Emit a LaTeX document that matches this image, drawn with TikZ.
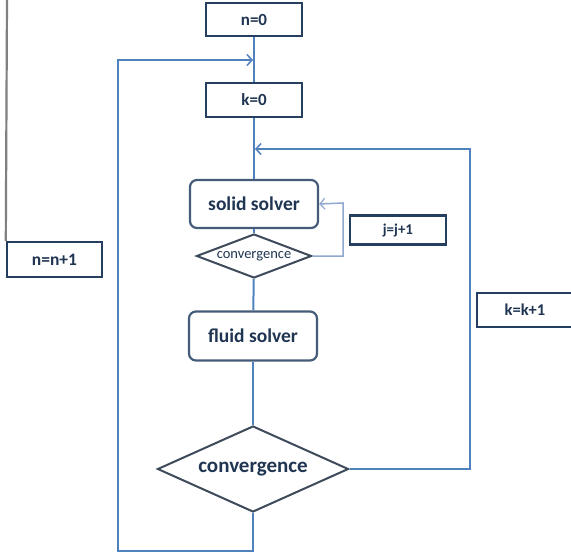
\documentclass[tikz,border=0pt]{standalone}
\usepackage{fontspec}
\setmainfont{Carlito}
\usepackage{tikz}
\usetikzlibrary{positioning,arrows.meta,shapes.geometric}
\definecolor{BoxNavy}{HTML}{243F60}
\definecolor{LineBlue}{HTML}{4F81BD}
\definecolor{SoftBlue}{HTML}{8FA8CF}
\definecolor{EdgeGray}{HTML}{3E4A5A}
\definecolor{TextNavy}{HTML}{1F3552}

\begin{document}
\begin{tikzpicture}[x=1pt,y=-1pt,font=\bfseries,text=TextNavy,
  counter/.style={draw=BoxNavy,line width=2.4pt,fill=white,inner sep=0pt},
  solver/.style={draw=BoxNavy!85,line width=2.2pt,rounded corners=7pt,fill=white,
    inner sep=0pt,minimum width=128pt,minimum height=48pt,font=\fontsize{19.5}{21}\bfseries},
  check/.style={diamond,draw=EdgeGray,line width=2pt,fill=white,inner sep=0pt},
  link/.style={draw=LineBlue,line width=2pt},
  tip/.style={-{Straight Barb[length=5pt,width=11pt,line width=1.5pt]}}]
\useasboundingbox (0,0) rectangle (571,558);
% counters and solvers on the main axis
\node[counter,minimum width=96pt,minimum height=33pt,font=\fontsize{17}{19}\bfseries]
  (n0) at (254,19.5) {n=0};
\node[counter,minimum width=96pt,minimum height=34pt,font=\fontsize{17}{19}\bfseries]
  (k0) at (254,100) {k=0};
\node[solver] (solid) at (254,204) {solid solver};
\node[check,minimum width=115pt,minimum height=44pt,font=\fontsize{14.5}{16}\selectfont]
  (sconv) at (254,256) {\makebox[0pt]{convergence}};
\node[solver,minimum height=49pt] (fluid) at (253,336) {fluid solver};
\node[check,minimum width=191pt,minimum height=86pt,font=\fontsize{21}{23}\bfseries]
  (cvg) at (253,469) {\makebox[0pt]{convergence}};
% loop counters
\node[counter,line width=2.2pt,minimum width=96pt,minimum height=29pt,font=\fontsize{15}{17}\bfseries]
  (jj) at (398,230) {j=j+1};
\node[counter,minimum width=95pt,minimum height=35pt,font=\fontsize{17.5}{19}\bfseries]
  (nn) at (54.5,259.5) {n=n+1};
\node[counter,minimum width=96pt,minimum height=34pt,font=\fontsize{16.5}{18}\bfseries]
  (kk) at (525,310) {k=k+1};
\coordinate (gtop) at (7,0);
\draw[gray,line width=2.2pt] (nn.north west) -- (gtop);
% main flow
\draw[link] (n0) -- (k0);
\draw[link] (k0) -- (solid);
\draw[link] (solid) -- (sconv);
\draw[link] (sconv) -- (fluid);
\draw[link] (fluid) -- (cvg);
% inner loop j
\coordinate (jturn) at (343,203);
\draw[draw=SoftBlue,line width=1.5pt,-{Straight Barb[length=5pt,width=11pt,line width=1.2pt]}]
  (sconv.east) -| (jturn) -- (solid.east);
% middle loop k
\coordinate (kturn) at (470,149);
\coordinate (kjoin) at (255,149);
\draw[link,tip] (cvg.east) -| (kturn) -- (kjoin);
% outer loop n
\coordinate (nbot) at (118,551);
\coordinate (ntop) at (118,60);
\coordinate (njoin) at (253,60);
\draw[link,tip] (cvg.south) |- (nbot) -- (ntop) -- (njoin);
\end{tikzpicture}
\end{document}
